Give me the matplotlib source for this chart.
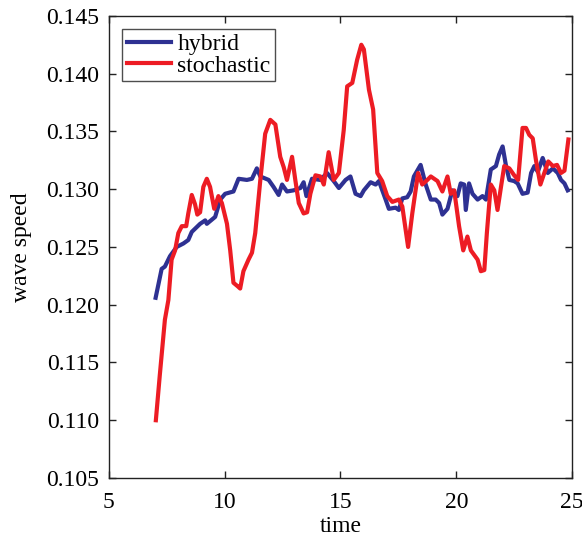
import matplotlib
matplotlib.use("Agg")
import matplotlib.pyplot as plt

hybrid_t = [7.02, 7.28, 7.42, 7.64, 7.93, 8.22, 8.43, 8.58, 8.94, 9.16, 9.23, 9.59, 9.81, 10.02,
            10.38, 10.60, 10.96, 11.18, 11.39, 11.54, 11.90, 12.11, 12.33, 12.48, 12.69, 12.98,
            13.27, 13.41, 13.53, 13.77, 14.13, 14.42, 14.71, 14.93, 15.22, 15.43, 15.65, 15.87,
            16.01, 16.30, 16.52, 16.66, 16.95, 17.09, 17.38, 17.52, 17.67, 17.88, 18.03, 18.17,
            18.46, 18.68, 18.90, 19.11, 19.26, 19.40, 19.62, 19.83, 20.05, 20.19, 20.34, 20.41,
            20.55, 20.70, 20.92, 21.13, 21.28, 21.49, 21.71, 21.85, 22.00, 22.14, 22.29, 22.50,
            22.65, 22.86, 23.08, 23.23, 23.37, 23.52, 23.73, 23.95, 24.17, 24.38, 24.52, 24.67,
            24.81]
hybrid_v = [0.1206, 0.1231, 0.1233, 0.1242, 0.1250, 0.1253, 0.1256, 0.1263, 0.1270, 0.1273,
            0.1270, 0.1276, 0.1291, 0.1296, 0.1298, 0.1309, 0.1308, 0.1309, 0.1318, 0.1311,
            0.1308, 0.1302, 0.1295, 0.1304, 0.1298, 0.1299, 0.1301, 0.1306, 0.1294, 0.1309,
            0.1308, 0.1314, 0.1307, 0.1301, 0.1308, 0.1311, 0.1296, 0.1294, 0.1299, 0.1306,
            0.1304, 0.1307, 0.1291, 0.1283, 0.1284, 0.1282, 0.1292, 0.1293, 0.1298, 0.1311,
            0.1321, 0.1304, 0.1291, 0.1291, 0.1288, 0.1278, 0.1283, 0.1299, 0.1294, 0.1305,
            0.1304, 0.1282, 0.1305, 0.1296, 0.1291, 0.1294, 0.1291, 0.1317, 0.1320, 0.1330,
            0.1337, 0.1321, 0.1308, 0.1307, 0.1305, 0.1296, 0.1297, 0.1314, 0.1320, 0.1315,
            0.1327, 0.1314, 0.1318, 0.1314, 0.1308, 0.1305, 0.1299]

stoch_t = [7.03, 7.20, 7.42, 7.57, 7.71, 7.86, 8.00, 8.15, 8.34, 8.43, 8.58, 8.72, 8.82, 8.94,
           9.08, 9.23, 9.37, 9.55, 9.73, 9.88, 10.10, 10.24, 10.38, 10.56, 10.67, 10.81, 11.03,
           11.18, 11.32, 11.54, 11.75, 11.97, 12.19, 12.40, 12.55, 12.69, 12.91, 13.05, 13.20,
           13.41, 13.56, 13.70, 13.92, 14.13, 14.28, 14.49, 14.71, 14.93, 15.14, 15.29, 15.51,
           15.72, 15.90, 16.01, 16.23, 16.41, 16.59, 16.80, 17.02, 17.24, 17.52, 17.67, 17.92,
           18.10, 18.35, 18.53, 18.75, 18.90, 19.19, 19.40, 19.62, 19.76, 19.91, 20.12, 20.30,
           20.48, 20.63, 20.92, 21.06, 21.21, 21.32, 21.49, 21.64, 21.78, 21.93, 22.07, 22.29,
           22.50, 22.67, 22.86, 23.01, 23.15, 23.30, 23.44, 23.63, 23.80, 23.97, 24.17, 24.35,
           24.52, 24.67, 24.84]
stoch_v = [0.1100, 0.1139, 0.1187, 0.1204, 0.1239, 0.1247, 0.1262, 0.1268, 0.1268, 0.1279,
           0.1295, 0.1287, 0.1278, 0.1280, 0.1302, 0.1309, 0.1302, 0.1283, 0.1294, 0.1288,
           0.1270, 0.1247, 0.1219, 0.1216, 0.1214, 0.1229, 0.1239, 0.1245, 0.1262, 0.1308,
           0.1348, 0.1360, 0.1356, 0.1328, 0.1319, 0.1308, 0.1328, 0.1308, 0.1288, 0.1279,
           0.1280, 0.1296, 0.1312, 0.1311, 0.1304, 0.1332, 0.1308, 0.1314, 0.1351, 0.1389,
           0.1392, 0.1412, 0.1425, 0.1421, 0.1386, 0.1369, 0.1314, 0.1307, 0.1294, 0.1289,
           0.1291, 0.1285, 0.1250, 0.1279, 0.1314, 0.1304, 0.1308, 0.1311, 0.1307, 0.1298,
           0.1311, 0.1296, 0.1299, 0.1268, 0.1247, 0.1259, 0.1247, 0.1239, 0.1229, 0.1230,
           0.1262, 0.1304, 0.1299, 0.1282, 0.1302, 0.1320, 0.1318, 0.1312, 0.1308, 0.1353,
           0.1353, 0.1347, 0.1344, 0.1325, 0.1304, 0.1314, 0.1324, 0.1320, 0.1321, 0.1314,
           0.1316, 0.1343]

x_ticks = [5, 10, 15, 20, 25]
y_ticks = [0.105, 0.110, 0.115, 0.120, 0.125, 0.130, 0.135, 0.140, 0.145]

plt.rcParams['font.family'] = ['Liberation Serif', 'DejaVu Serif']
plt.rcParams['font.size'] = 17

fig = plt.figure(figsize=(5.82, 5.38), dpi=100)
ax = fig.add_axes([0.187, 0.1115, 0.796, 0.859])

ax.plot(hybrid_t, hybrid_v, color='#2E3192', lw=3.0, label='hybrid', solid_joinstyle='round')
ax.plot(stoch_t, stoch_v, color='#ED1C24', lw=3.0, label='stochastic', solid_joinstyle='round')

ax.set_xlim(5, 25)
ax.set_ylim(0.105, 0.145)
ax.set_xticks(x_ticks)
ax.set_xticklabels([str(v) for v in x_ticks])
ax.set_yticks(y_ticks)
ax.set_yticklabels(['%.3f' % v for v in y_ticks])
ax.tick_params(direction='in', top=True, right=True, length=5, width=1, color='#222222')
ax.tick_params(axis='x', pad=10)
ax.tick_params(axis='y', pad=7)
for s in ax.spines.values():
    s.set_linewidth(1.0)
    s.set_color('#222222')

ax.set_xlabel('time', labelpad=2)
ax.set_ylabel('wave speed', labelpad=10)

leg = ax.legend(loc='upper left', bbox_to_anchor=(0.028, 0.972), frameon=True, fancybox=False,
                edgecolor='#222222', handlelength=1.9, handletextpad=0.25, borderpad=0.2,
                labelspacing=0.0, borderaxespad=0)
leg.get_frame().set_linewidth(1.0)

fig.savefig('out.png', dpi=100)
